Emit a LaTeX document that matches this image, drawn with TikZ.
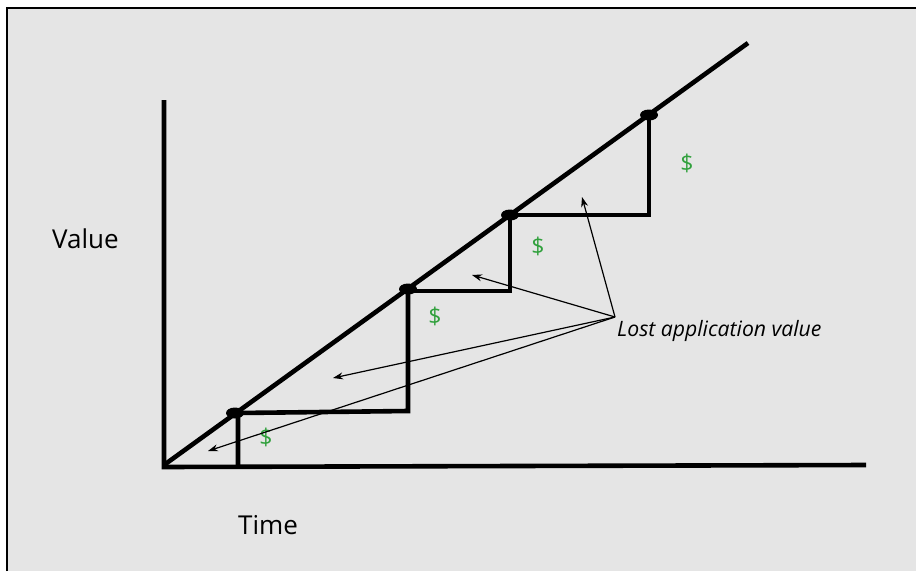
\documentclass[tikz,border=0pt]{standalone}
\usepackage{fontspec}
\setmainfont{Open Sans}
\usetikzlibrary{arrows.meta,shapes.geometric}
\definecolor{bg}{RGB}{229,229,229}
\definecolor{dollar}{RGB}{48,160,60}
\tikzset{
  thick line/.style={line width=4.6pt, line cap=butt, line join=miter},
  pointer/.style={line width=1.2pt, -{Stealth[length=10pt,width=7pt]}},
  dot/.style={fill=black, ellipse, inner sep=0pt, minimum width=18pt, minimum height=11pt},
  money/.style={text=dollar, font=\fontsize{23}{26}\selectfont, inner sep=0pt},
  label/.style={font=\fontsize{26}{30}\selectfont, inner sep=0pt, anchor=base west},
}
\begin{document}
\begin{tikzpicture}[x=1pt,y=-1pt]
\useasboundingbox (0,0) rectangle (916,571);
\fill[bg] (7,8) rectangle (916,571);
\draw[line width=1.6pt] (7,571) -- (7,8) -- (916,8);
% axes
\coordinate (O) at (164,465);
\coordinate (Ytop) at (164,100);
\coordinate (Xend) at (866,465);
\coordinate (Dend) at (748,43);
\draw[thick line] (Ytop) -- (164,467) -- (Xend);
\draw[thick line] (O) -- (Dend);
% step points
\coordinate (P1) at (235,413);
\coordinate (P2) at (408,289);
\coordinate (P3) at (510,215);
\coordinate (P4) at (649,115);
\coordinate (B1) at (238,465);
\coordinate (C1) at (408,411);
\coordinate (C2) at (510,291);
\coordinate (C3) at (649,215);
\draw[thick line] (B1) -- (238,413) -- (C1) -- (P2);
\draw[thick line] (408,291) -- (C2) -- (P3);
\draw[thick line] (510,215) -- (C3) -- (P4);
\node[dot] (d1) at (P1) {};
\node[dot] (d2) at (P2) {};
\node[dot] (d3) at (P3) {};
\node[dot] (d4) at (P4) {};
% dollar signs
\node[money] (m1) at (266,437) {\$};
\node[money] (m2) at (435,316) {\$};
\node[money] (m3) at (538,246) {\$};
\node[money] (m4) at (687,163) {\$};
% labels
\node[label] (value) at (52,248) {Value};
\node[label] (time) at (238,534) {Time};
\node[font=\fontsize{21.2}{25}\selectfont\itshape, inner sep=0pt, anchor=base west] (lost) at (617,336) {Lost application value};
\coordinate (src) at (615,317);
\coordinate (t1) at (582,197);
\coordinate (t2) at (472,275);
\coordinate (t3) at (333,378);
\coordinate (t4) at (208,451);
\draw[pointer] (src) -- (t1);
\draw[pointer] (src) -- (t2);
\draw[pointer] (src) -- (t3);
\draw[pointer] (src) -- (t4);
\end{tikzpicture}
\end{document}
